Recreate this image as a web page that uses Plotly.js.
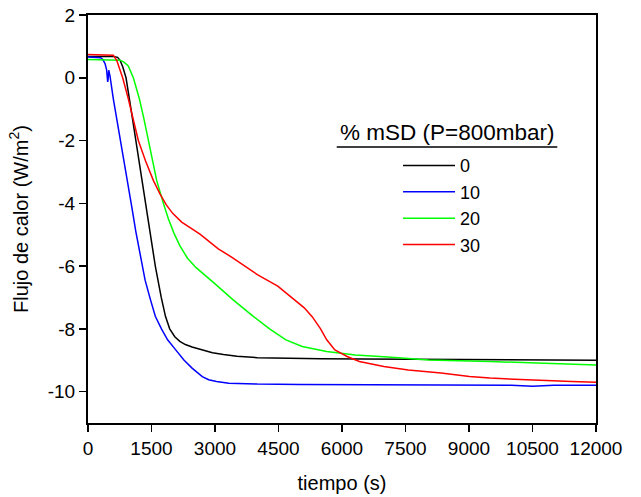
<!DOCTYPE html>
<html>
<head>
<meta charset="utf-8">
<script src="https://cdn.plot.ly/plotly-3.0.1.min.js"></script>
<style>html,body{margin:0;padding:0;background:#fff;}#chart{width:641px;height:497px;}</style>
</head>
<body>
<div id="chart"></div>
<script>
// Series: % mSD = 0
var t0 = [0, 200, 400, 600, 700, 760, 820, 898, 1000, 1134, 1250, 1360, 1470, 1590, 1730, 1830, 1930, 2050, 2169, 2300, 2458, 2700, 2940, 3200, 3518, 4000, 4675, 5500, 6500, 7500, 8500, 9500, 10500, 11500, 12000];
var v0 = [0.68, 0.68, 0.69, 0.68, 0.65, 0.55, 0.35, 0.0, -0.86, -2.0, -3.0, -4.0, -5.0, -6.0, -7.0, -7.6, -8.0, -8.25, -8.4, -8.5, -8.58, -8.68, -8.76, -8.82, -8.87, -8.92, -8.94, -8.95, -8.96, -8.97, -8.97, -8.98, -8.99, -8.99, -9.0];
// Series: % mSD = 10
var t1 = [0, 150, 300, 350, 402, 440, 465, 475, 490, 520, 598, 680, 756, 900, 1032, 1130, 1205, 1280, 1349, 1475, 1590, 1735, 1880, 2072, 2265, 2458, 2600, 2699, 2850, 3036, 3325, 4000, 5000, 6000, 7000, 8000, 9000, 10000, 10500, 11000, 12000];
var v1 = [0.66, 0.66, 0.64, 0.58, 0.45, 0.25, -0.13, -0.05, 0.24, 0.05, -0.67, -1.3, -2.0, -3.1, -4.1, -4.9, -5.47, -6.0, -6.45, -7.07, -7.6, -8.0, -8.35, -8.67, -8.99, -9.25, -9.42, -9.52, -9.62, -9.68, -9.73, -9.76, -9.77, -9.78, -9.77, -9.78, -9.79, -9.8, -9.83, -9.8, -9.8];
// Series: % mSD = 20
var t2 = [0, 200, 400, 600, 756, 850, 952, 1071, 1213, 1320, 1425, 1520, 1622, 1780, 1900, 2030, 2169, 2350, 2554, 2988, 3422, 3904, 4289, 4675, 5060, 5639, 6313, 7085, 8049, 9494, 10940, 12000];
var v2 = [0.58, 0.57, 0.58, 0.57, 0.56, 0.5, 0.38, 0.0, -0.67, -1.3, -2.0, -2.6, -3.27, -4.0, -4.5, -4.95, -5.35, -5.75, -6.05, -6.55, -7.07, -7.6, -8.0, -8.35, -8.56, -8.72, -8.83, -8.9, -8.99, -9.04, -9.09, -9.15];
// Series: % mSD = 30
var t3 = [0, 200, 400, 598, 680, 750, 819, 952, 1070, 1189, 1360, 1543, 1700, 1850, 2000, 2213, 2645, 3078, 3400, 3711, 4000, 4482, 4868, 5109, 5300, 5494, 5639, 5832, 6121, 6410, 6988, 7567, 8338, 9012, 9494, 10458, 11422, 12000];
var v3 = [0.74, 0.74, 0.74, 0.72, 0.55, 0.3, 0.0, -0.67, -1.35, -2.0, -2.65, -3.27, -3.7, -4.05, -4.32, -4.6, -4.98, -5.45, -5.72, -6.0, -6.27, -6.64, -7.07, -7.33, -7.62, -8.0, -8.35, -8.67, -8.88, -9.04, -9.2, -9.31, -9.41, -9.52, -9.57, -9.63, -9.68, -9.7];

var seriesNames = ["0", "10", "20", "30"];
var seriesColors = ["#000000", "#0000ff", "#00ff00", "#ff0000"];
var xTickVals = [0, 1500, 3000, 4500, 6000, 7500, 9000, 10500, 12000];
var xTickText = ["0", "1500", "3000", "4500", "6000", "7500", "9000", "10500", "12000"];
var yTickVals = [-10, -8, -6, -4, -2, 0, 2];
var yTickText = ["-10", "-8", "-6", "-4", "-2", "0", "2"];
var legendTitle = "% mSD (P=800mbar)";

var xs = [t0, t1, t2, t3];
var ys = [v0, v1, v2, v3];
var traces = xs.map(function (x, i) {
  return {
    x: x, y: ys[i], type: "scatter", mode: "lines", name: seriesNames[i],
    line: {color: seriesColors[i], width: 1.5}
  };
});

var FONT = "Liberation Sans, Arial, sans-serif";
var axisCommon = {
  showline: true, linecolor: "#000", linewidth: 2, mirror: true,
  ticks: "outside", ticklen: 7, tickwidth: 1.5, tickcolor: "#000",
  showgrid: false, zeroline: false,
  tickfont: {family: FONT, size: 19, color: "#000"}
};

var layout = {
  width: 641, height: 497,
  margin: {l: 88, r: 45, t: 15, b: 74},
  paper_bgcolor: "#fff", plot_bgcolor: "#fff",
  font: {family: FONT, color: "#000"},
  xaxis: Object.assign({}, axisCommon, {
    range: [0, 12000], tickmode: "array", tickvals: xTickVals, ticktext: xTickText,
    title: {text: "tiempo (s)", font: {family: FONT, size: 20, color: "#000"}, standoff: 18}
  }),
  yaxis: Object.assign({}, axisCommon, {
    range: [-11, 2], tickmode: "array", tickvals: yTickVals, ticktext: yTickText,
    title: {text: "Flujo de calor (W/m<sup>2</sup>)", font: {family: FONT, size: 20, color: "#000"}, standoff: 14}
  }),
  showlegend: true,
  legend: {
    x: 0.6103, y: 0.676, xanchor: "left", yanchor: "top",
    bgcolor: "rgba(0,0,0,0)", borderwidth: 0,
    font: {family: FONT, size: 18, color: "#000"},
    itemwidth: 52,
    tracegroupgap: 0
  },
  annotations: [{
    text: legendTitle, xref: "paper", yref: "paper", x: 0.7067, y: 0.711,
    xanchor: "center", yanchor: "middle", showarrow: false,
    font: {family: FONT, size: 22.5, color: "#000"}
  }],
  shapes: [{
    type: "line", xref: "paper", yref: "paper",
    x0: 0.4896, x1: 0.9238, y0: 0.6765, y1: 0.6765,
    line: {color: "#000", width: 1.5}
  }]
};

Plotly.newPlot("chart", traces, layout, {displayModeBar: false, staticPlot: true});
</script>
</body>
</html>
